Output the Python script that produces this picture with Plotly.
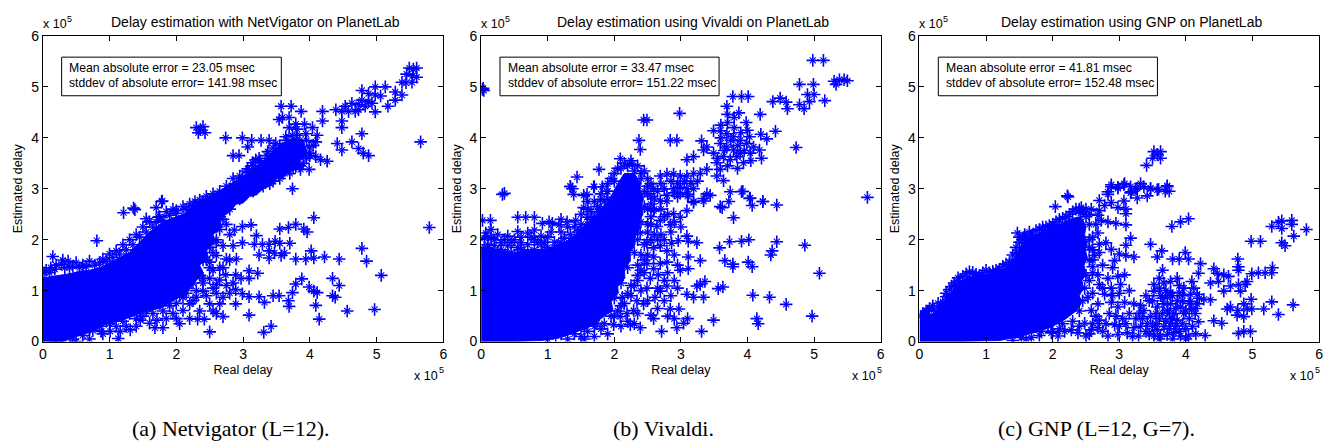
import plotly.graph_objects as go

# ---------------- data (values in units of 1e5, as on the axes) ----------------
ticks = [0, 1, 2, 3, 4, 5, 6]
tick_text = ["0", "1", "2", "3", "4", "5", "6"]

titles = ["Delay estimation with NetVigator on PlanetLab",
          "Delay estimation using Vivaldi on PlanetLab",
          "Delay estimation using GNP on PlanetLab"]
mean_err = ["23.05", "33.47", "41.81"]
std_err = ["141.98", "151.22", "152.48"]
captions = ["(a) Netvigator (L=12).", "(b) Vivaldi.", "(c) GNP (L=12, G=7)."]
scale_base, scale_exp = "x 10", "5"

# outline of the saturated (solid-blue) region where markers overlap completely
nv_dense = [(0, 0), (0.3, 0), (0.55, 0.12), (0.75, 0.2), (0.95, 0.35), (1.15, 0.4), (1.35, 0.5), (1.55, 0.6),
            (1.75, 0.65), (1.95, 0.8), (2.15, 0.95), (2.3, 1.2), (2.4, 1.35), (2.35, 1.5), (2.48, 1.65),
            (2.45, 1.8), (2.58, 1.95), (2.55, 2.1), (2.68, 2.25), (2.65, 2.4), (2.8, 2.55), (2.9, 2.7),
            (3.0, 2.72), (3.1, 2.85), (3.2, 2.88), (3.3, 3.0), (3.4, 3.05), (3.5, 3.2), (3.6, 3.22),
            (3.7, 3.35), (3.8, 3.4), (3.85, 3.55), (3.95, 3.65), (3.95, 3.75), (3.9, 3.95), (3.75, 4.0),
            (3.6, 3.9), (3.45, 3.75), (3.3, 3.55), (3.1, 3.35), (2.9, 3.15), (2.7, 3.0), (2.5, 2.85),
            (2.3, 2.7), (2.1, 2.5), (1.9, 2.4), (1.75, 2.3), (1.6, 2.15), (1.45, 1.95), (1.3, 1.75),
            (1.15, 1.65), (1.0, 1.55), (0.85, 1.45), (0.7, 1.4), (0.55, 1.38), (0.4, 1.33), (0.25, 1.3),
            (0.1, 1.28), (0, 1.25)]

nv_points = [
    (5.49, 5.37), (5.6, 5.37), (5.55, 5.35), (5.45, 5.25), (5.54, 5.22), (5.6, 5.19), (5.38, 5.09), (5.44, 5.08),
    (5.53, 5.09), (4.98, 5.0), (5.13, 5.0), (5.28, 4.9), (5.38, 4.84), (5.28, 4.74), (5.17, 4.62), (4.78, 4.93),
    (4.88, 4.87), (4.98, 4.84), (5.06, 4.82), (4.78, 4.74), (4.88, 4.71), (4.93, 4.68), (4.73, 4.65), (4.83, 4.62),
    (4.98, 4.51), (4.73, 4.55), (4.63, 4.68), (4.53, 4.62), (4.58, 4.52), (4.68, 4.52), (4.39, 4.55), (4.48, 4.52),
    (5.66, 3.92), (4.19, 4.52), (4.19, 4.33), (4.48, 4.33), (4.48, 4.2), (4.63, 3.92), (4.78, 4.08), (4.48, 3.76),
    (4.73, 3.79), (4.8, 3.7), (4.88, 3.65), (4.41, 3.89), (3.57, 4.62), (3.72, 4.62), (3.59, 4.4), (3.69, 4.4),
    (3.54, 4.36), (3.87, 4.52), (3.79, 4.27), (3.92, 4.27), (4.04, 4.2), (3.69, 4.2), (3.81, 4.17),
    (2.3, 4.2), (2.4, 4.22), (2.33, 4.1), (2.43, 4.1), (2.36, 4.16),
    (2.74, 4.0), (2.99, 4.0), (3.13, 3.95), (3.27, 3.95), (3.39, 3.95), (2.85, 3.65), (2.94, 3.65), (3.07, 3.82),
    (3.07, 3.39), (3.19, 3.57), (3.74, 3.0), (3.86, 3.38), (3.99, 3.38), (4.09, 3.63), (4.16, 3.57), (4.26, 3.54),
    (1.78, 2.75), (2.28, 2.75), (2.4, 2.75), (2.5, 2.78), (2.6, 2.81), (2.72, 2.87), (2.8, 3.0), (2.9, 3.1),
    (2.99, 3.22), (3.09, 3.32), (3.19, 3.19), (3.34, 3.25), (3.49, 3.25), (3.64, 3.38), (3.79, 3.44), (3.89, 3.7),
    (3.99, 3.82), (4.09, 3.92), (4.11, 4.05), (3.94, 4.08), (3.74, 4.05), (3.64, 4.02), (3.49, 3.89), (3.37, 3.73),
    (3.24, 3.6), (3.14, 3.51), (3.3, 3.45), (3.45, 3.55), (3.55, 3.7), (3.7, 3.8), (3.85, 3.95), (3.0, 3.05),
    (3.2, 3.0), (3.4, 3.1), (3.55, 3.2), (3.7, 3.3), (3.9, 3.5), (4.0, 3.65), (2.7, 2.6), (2.85, 2.8), (3.05, 2.9),
    (5.79, 2.24), (4.06, 2.43), (3.79, 2.3), (3.91, 2.21), (3.96, 2.15), (3.68, 2.24), (3.55, 2.21), (3.7, 1.93),
    (3.55, 1.93), (3.48, 1.97), (3.39, 1.91), (3.39, 1.78), (3.47, 1.74), (3.62, 1.74), (3.57, 1.69), (3.39, 1.64),
    (3.24, 1.7), (3.29, 1.91), (3.17, 1.91), (3.2, 2.08), (3.12, 2.29), (2.99, 2.26), (2.87, 2.19),
    (3.79, 1.62), (3.94, 1.62), (4.06, 1.64), (4.22, 1.66), (4.44, 1.62), (4.02, 1.78), (4.78, 1.83), (4.85, 1.58),
    (5.07, 1.3), (4.97, 0.63), (4.56, 0.6), (4.34, 1.24), (4.44, 1.1), (4.34, 0.9), (4.38, 0.87), (3.99, 1.07),
    (4.06, 0.99), (4.11, 0.96), (3.88, 1.23), (3.79, 1.13), (4.09, 0.71), (4.14, 0.44), (3.74, 0.96), (3.68, 0.8),
    (3.69, 0.69), (3.54, 0.9), (3.45, 0.9), (3.32, 0.77), (3.24, 0.88), (3.09, 0.88), (2.99, 0.94), (2.89, 1.02),
    (2.97, 1.24), (3.09, 1.24), (3.22, 1.34), (3.09, 1.39), (2.89, 1.31), (2.74, 1.31), (2.65, 1.21), (2.65, 0.74),
    (2.7, 0.87), (2.7, 0.49), (2.89, 0.74), (3.09, 0.52), (3.31, 0.18), (3.42, 0.3), (2.5, 0.19), (2.32, 0.44),
    (2.42, 0.44), (2.2, 0.45), (2.1, 0.61), (2.0, 0.45), (1.8, 0.27), (1.68, 0.27), (1.71, 0.42), (1.6, 0.36),
    (1.46, 0.42), (1.31, 0.23), (1.13, 0.06), (1.01, 0.2), (0.88, 0.2), (1.16, 0.2),
    (3.05, 3.01), (0.81, 1.98), (0.15, 1.67), (1.21, 2.53), (1.38, 2.59), (1.36, 2.62), (1.55, 2.41), (1.7, 2.63),
    (1.79, 2.76), (1.95, 2.6), (2.0, 2.57), (1.73, 2.44), (2.3, 2.67), (2.4, 2.73),
    (2.4, 1.24), (2.5, 1.24), (2.6, 1.12), (2.4, 0.99), (2.5, 0.74), (2.3, 0.87), (2.2, 0.74), (2.1, 0.87),
    (2.6, 2.26), (2.7, 1.88), (2.6, 1.69), (2.85, 1.88), (2.99, 1.94), (2.9, 1.62), (2.75, 1.62), (2.5, 1.56),
    (2.37, 1.88), (2.6, 2.0), (2.8, 2.1), (2.65, 2.45), (2.75, 2.3), (2.5, 2.3), (2.45, 2.1), (2.55, 1.75),
    (2.7, 1.45), (2.8, 1.6), (2.55, 1.4), (2.45, 1.6),
    (0.05, 1.4), (0.2, 1.5), (0.3, 1.6), (0.38, 1.58), (0.5, 1.55), (0.6, 1.5), (0.7, 1.58), (0.9, 1.62),
    (1.0, 1.72), (1.1, 1.78), (1.2, 1.9), (1.3, 2.0), (1.4, 2.1), (1.5, 2.25), (1.6, 2.35), (1.75, 2.45),
    (1.85, 2.55), (2.1, 2.65), (2.2, 2.7), (0.1, 1.35), (0.4, 1.45), (0.85, 1.55),
    (0.3, 0.05), (0.5, 0.0), (0.6, 0.12), (0.7, 0.05), (0.9, 0.15), (1.0, 0.35), (1.2, 0.4), (1.25, 0.3),
    (1.4, 0.45), (1.5, 0.5), (1.55, 0.6), (1.65, 0.55), (1.8, 0.6), (1.9, 0.7), (2.0, 0.75), (2.15, 0.95),
    (2.25, 1.15), (2.35, 1.3), (1.95, 0.55), (1.85, 0.45), (2.05, 0.35), (1.4, 0.3), (0.75, 0.22), (1.1, 0.3),
    (0.45, 0.05), (0.2, 0.02),
    (0.02, 1.35), (0.12, 1.45), (0.18, 1.42), (0.28, 1.52), (0.33, 1.45), (0.45, 1.48), (0.55, 1.45),
    (0.65, 1.47), (0.78, 1.5), (0.95, 1.58), (1.05, 1.65), (1.15, 1.72), (1.25, 1.8), (1.35, 1.9), (1.45, 2.05),
    (1.55, 2.15), (1.65, 2.25), (1.7, 2.35), (1.8, 2.38), (1.9, 2.48), (2.0, 2.52), (2.15, 2.6), (2.25, 2.65),
    (2.35, 2.78), (2.45, 2.85), (2.55, 2.9), (2.65, 2.95), (2.75, 3.05), (2.85, 3.2), (2.95, 3.25), (3.05, 3.35),
    (3.15, 3.45), (3.25, 3.55), (3.35, 3.65), (3.45, 3.8), (3.55, 3.85), (3.65, 3.95), (3.8, 4.05), (3.95, 3.95),
    (4.05, 3.85), (4.0, 3.7), (3.95, 3.6), (3.85, 3.45), (3.75, 3.4), (3.6, 3.3), (3.45, 3.15), (3.3, 3.05),
    (3.15, 2.95), (2.95, 2.8), (2.8, 2.6), (2.7, 2.4), (2.65, 2.2), (2.6, 1.95), (2.5, 1.85), (2.4, 1.6),
    (2.3, 1.4), (2.25, 1.25), (2.15, 1.05), (2.05, 0.9), (1.9, 0.85), (1.75, 0.75), (1.6, 0.7), (1.45, 0.6),
    (1.3, 0.55), (1.2, 0.5), (1.05, 0.45), (0.95, 0.4), (0.85, 0.3), (0.7, 0.25), (0.6, 0.2), (0.4, 0.1),
    (0.15, 0.05),
    (2.05, 1.05), (2.15, 1.2), (2.25, 0.8), (2.35, 0.6), (2.45, 0.9), (2.55, 1.05), (2.6, 0.95), (2.65, 1.45),
    (2.5, 1.45), (2.4, 1.15), (2.3, 1.0), (2.55, 0.6), (2.6, 0.55), (2.75, 1.1), (2.8, 0.95), (2.85, 1.15),
    (2.0, 1.0), (1.9, 1.0), (1.8, 0.95)]

vi_dense = [(0, 0), (0.5, 0), (0.9, 0.02), (1.2, 0.08), (1.45, 0.2), (1.65, 0.3), (1.85, 0.5), (1.98, 0.62),
            (1.95, 0.8), (2.06, 0.95), (2.05, 1.1), (2.16, 1.25), (2.15, 1.42), (2.24, 1.58), (2.24, 1.75),
            (2.31, 1.9), (2.31, 2.05), (2.38, 2.2), (2.38, 2.38), (2.43, 2.5), (2.41, 2.68), (2.44, 2.82),
            (2.39, 2.98), (2.39, 3.12), (2.3, 3.3), (2.15, 3.3), (2.05, 3.1), (1.95, 2.85), (1.85, 2.65),
            (1.75, 2.5), (1.62, 2.35), (1.5, 2.2), (1.38, 2.05), (1.25, 1.95), (1.1, 1.85), (0.9, 1.8),
            (0.7, 1.78), (0.5, 1.75), (0.3, 1.78), (0.15, 1.85), (0, 1.85)]

vi_points = [
    (0.02, 4.95), (0.04, 4.93), (0.03, 4.97),
    (4.98, 5.52), (5.14, 5.52), (5.3, 5.11), (5.38, 5.14), (5.45, 5.14), (5.5, 5.12), (5.33, 5.05), (4.78, 5.05),
    (4.99, 5.05), (4.9, 4.85), (5.0, 4.85), (5.16, 4.73), (4.93, 4.71), (4.78, 4.65), (4.85, 4.57), (4.38, 4.71),
    (4.49, 4.78), (4.58, 4.7), (4.6, 4.57), (4.73, 3.81),
    (3.78, 4.81), (3.91, 4.81), (4.01, 4.81), (3.69, 4.62), (3.87, 4.49), (3.7, 4.46), (3.98, 4.3), (4.19, 4.46),
    (4.42, 4.13), (4.2, 4.07), (4.29, 3.98), (4.03, 4.02), (4.18, 3.76), (4.21, 3.6),
    (2.98, 4.48), (2.94, 3.95), (2.84, 3.95), (2.44, 4.35), (2.49, 4.35), (2.39, 3.77), (2.37, 3.95), (2.09, 3.59),
    (2.27, 3.48), (1.77, 3.38), (1.44, 3.23), (1.34, 3.05), (1.37, 3.0), (1.69, 3.04), (1.54, 2.87), (0.32, 2.89),
    (2.59, 3.0), (2.69, 3.25), (2.79, 3.29), (2.89, 3.29), (2.99, 3.25), (3.09, 3.25), (3.19, 3.3), (3.29, 3.3),
    (2.89, 3.0), (2.99, 3.03), (3.09, 3.0), (3.19, 3.0), (2.79, 2.87), (3.19, 2.75), (3.34, 2.81), (3.44, 2.87),
    (3.09, 3.57), (3.19, 3.63), (3.34, 3.76), (3.31, 3.94), (3.39, 3.82), (3.49, 3.7), (3.54, 3.51), (3.59, 3.38),
    (3.39, 3.38), (3.54, 3.25), (3.64, 3.16), (3.74, 2.94), (3.91, 2.94), (4.03, 2.81), (4.23, 2.75), (5.8, 2.83),
    (3.49, 4.14), (3.59, 4.14), (3.69, 4.08), (3.79, 4.02), (3.89, 3.95), (3.59, 3.89), (3.69, 3.82), (3.79, 3.76),
    (3.89, 3.7), (3.99, 3.89), (4.09, 3.82), (3.64, 3.63), (3.74, 3.57), (3.84, 3.63), (3.94, 3.51), (4.04, 3.7),
    (3.7, 4.3), (3.8, 4.2), (3.6, 4.0), (3.9, 4.1), (4.0, 4.15), (3.75, 3.95), (3.85, 3.85), (3.95, 3.75),
    (3.65, 3.75), (3.55, 3.6), (3.7, 3.45), (3.85, 3.4), (4.05, 3.55), (3.8, 4.4), (3.6, 4.25),
    (1.9, 3.1), (2.0, 3.3), (2.1, 3.4), (2.2, 3.45), (2.3, 3.35), (2.4, 3.3), (2.5, 3.2), (2.55, 3.1), (2.5, 2.9),
    (2.55, 2.7), (1.8, 2.9), (1.9, 2.8), (1.7, 2.75), (1.6, 2.6), (1.75, 2.55), (2.6, 2.8), (2.65, 2.95),
    (2.7, 3.1), (2.75, 3.0), (2.85, 3.15), (2.95, 3.1), (3.05, 3.15), (3.15, 3.1), (3.25, 3.15), (2.95, 2.85),
    (3.1, 2.85),
    (5.08, 1.34), (4.97, 0.5), (4.86, 1.89), (4.58, 0.73), (4.33, 0.87), (4.14, 0.45), (4.16, 0.35), (4.08, 0.91),
    (4.44, 1.96), (4.37, 1.78), (4.35, 1.7), (4.44, 2.68), (4.23, 2.75), (4.07, 2.67), (4.04, 2.82), (3.93, 2.95),
    (3.72, 2.75), (3.79, 2.43), (3.59, 2.65), (3.62, 2.63), (4.02, 2.0), (4.01, 1.56), (4.07, 1.47), (3.91, 1.97),
    (3.73, 1.96), (3.78, 1.52), (3.78, 1.47), (3.66, 1.59), (3.58, 1.84), (3.63, 1.07), (3.56, 1.04), (3.49, 0.42),
    (3.31, 0.2), (3.34, 0.87), (3.36, 1.18), (3.29, 1.12), (3.24, 1.09), (3.19, 0.87), (3.09, 0.93), (3.1, 0.45),
    (3.04, 0.36), (2.94, 0.27), (2.97, 0.64), (2.84, 0.64), (2.71, 0.2), (2.59, 0.45), (2.55, 0.52), (2.39, 0.27),
    (2.24, 0.33), (1.99, 0.33), (1.69, 0.45), (1.74, 0.36), (1.39, 0.27), (1.12, 0.11),
    (2.99, 1.4), (3.11, 1.43), (3.11, 1.66), (3.29, 1.59), (3.11, 1.97), (3.24, 1.94), (3.09, 2.07), (2.96, 1.98),
    (2.86, 1.93), (2.79, 1.78), (2.84, 2.29), (2.69, 2.38), (2.64, 2.26), (2.89, 2.51), (2.99, 2.44), (3.09, 2.57),
    (3.19, 2.73), (3.34, 2.76), (3.39, 2.9), (3.11, 2.89), (2.99, 2.92), (2.9, 2.92), (2.79, 2.76), (2.69, 2.76),
    (2.59, 2.57),
    (2.49, 1.05), (2.54, 1.24), (2.59, 1.43), (2.49, 1.53), (2.59, 1.84), (2.69, 1.88), (2.49, 1.94), (2.39, 2.13),
    (2.69, 1.53), (2.79, 1.56), (2.59, 1.66), (2.66, 1.31), (2.79, 1.09), (2.69, 0.99), (2.61, 0.87), (2.44, 0.74),
    (2.34, 0.8), (2.29, 0.61), (2.19, 0.55), (2.12, 0.87), (2.09, 0.49), (2.4, 1.0), (2.35, 1.2), (2.45, 1.35),
    (2.5, 1.7), (2.55, 2.0), (2.6, 2.1), (2.5, 2.3), (2.55, 2.45), (2.6, 2.6),
    (0.02, 2.38), (0.14, 2.38), (0.07, 2.13), (0.05, 2.03), (0.15, 2.03), (0.05, 1.72), (0.35, 2.91), (0.55, 2.44),
    (0.67, 2.44), (0.8, 2.44), (0.92, 2.32), (1.02, 2.35), (1.07, 2.32), (1.17, 2.29), (1.29, 2.35), (1.42, 2.38),
    (1.49, 2.19), (1.59, 2.44), (1.54, 2.63), (1.39, 2.89), (1.34, 3.04), (1.59, 2.89), (1.7, 3.04), (1.82, 3.04),
    (1.89, 2.95), (1.79, 2.79),
    (0.4, 1.88), (0.5, 2.0), (0.6, 1.94), (0.7, 2.13), (0.8, 2.0), (0.9, 2.07), (0.4, 2.07), (0.3, 1.94),
    (0.2, 1.88), (0.35, 1.69), (0.55, 1.66), (0.75, 1.72), (0.95, 1.78), (1.15, 1.88), (1.25, 2.03), (1.34, 2.1),
    (0.55, 2.16), (0.8, 2.19), (0.1, 1.9), (0.25, 1.75), (0.45, 1.55), (0.65, 1.6), (0.85, 1.65), (1.05, 1.7),
    (1.1, 1.95), (1.0, 2.05), (1.2, 2.15), (1.45, 2.05), (1.55, 2.2), (1.65, 2.4), (1.75, 2.65), (1.3, 1.85),
    (0.6, 1.8), (0.9, 1.9), (0.15, 2.2), (1.4, 2.25), (1.6, 2.75), (1.95, 2.7),
    (1.3, 0.05), (1.5, 0.1), (1.6, 0.2), (1.8, 0.25), (1.9, 0.15), (2.0, 0.5), (2.1, 0.7), (1.85, 0.35),
    (2.2, 0.95), (2.25, 1.1), (2.35, 1.5), (2.4, 1.7), (1.55, 0.05), (1.7, 0.1),
    (0.05, 1.85), (0.1, 2.05), (0.2, 2.0), (0.25, 2.1), (0.3, 1.8), (0.35, 2.0), (0.45, 1.75), (0.45, 1.95),
    (0.5, 1.7), (0.55, 1.85), (0.6, 2.05), (0.65, 1.75), (0.7, 1.9), (0.75, 2.05), (0.8, 1.8), (0.85, 1.95),
    (0.95, 1.95), (1.0, 1.85), (1.05, 2.15), (1.1, 1.8), (1.2, 1.95), (1.2, 2.4), (1.3, 2.25), (1.35, 1.95),
    (1.4, 2.0), (1.45, 2.15), (1.5, 2.3), (1.5, 2.5), (1.6, 2.3), (1.65, 2.55), (1.7, 2.45), (1.8, 2.6),
    (1.85, 2.75), (1.9, 2.95), (1.95, 3.2), (2.0, 3.15), (2.05, 3.4), (2.15, 3.5), (2.25, 3.55), (2.35, 3.45),
    (2.45, 3.35), (2.5, 3.05), (2.55, 2.85), (2.5, 2.6), (2.55, 2.3), (2.5, 2.15), (2.45, 1.9), (2.45, 1.6),
    (2.4, 1.4), (2.35, 1.3), (2.3, 1.1), (2.25, 0.9), (2.15, 0.75), (2.05, 0.6), (1.95, 0.5), (1.8, 0.6),
    (1.7, 0.3), (1.55, 0.3), (1.4, 0.15), (1.2, 0.15), (1.0, 0.05), (2.2, 0.4), (2.3, 0.35),
    (2.7, 2.1), (2.75, 2.0), (2.85, 2.15), (2.9, 1.7), (2.95, 1.5), (2.8, 1.35), (2.75, 1.2), (2.9, 1.2),
    (2.95, 1.05), (2.85, 0.9), (2.75, 0.8), (2.65, 0.65), (2.8, 0.5), (2.9, 0.45), (2.65, 1.05), (2.7, 2.6),
    (2.8, 2.5), (2.9, 2.35), (3.0, 2.25), (2.75, 2.45), (2.65, 2.0),
    (2.1, 1.15), (2.2, 1.45), (2.3, 1.75), (2.35, 2.0), (2.4, 2.35), (2.45, 2.65), (2.45, 2.95), (2.4, 3.2),
    (2.0, 0.85), (2.1, 0.3), (2.35, 0.55), (2.5, 0.8)]

gnp_dense = [(0, 0), (0.6, 0), (1.2, 0.02), (1.5, 0.1), (1.8, 0.2), (2.0, 0.3), (2.2, 0.45), (2.35, 0.6),
             (2.43, 0.75), (2.4, 0.9), (2.46, 1.05), (2.44, 1.2), (2.5, 1.35), (2.47, 1.5), (2.52, 1.65),
             (2.49, 1.8), (2.52, 1.95), (2.48, 2.1), (2.5, 2.25), (2.45, 2.4), (2.4, 2.45), (2.25, 2.4),
             (2.1, 2.3), (1.9, 2.2), (1.75, 2.1), (1.6, 2.0), (1.5, 1.85), (1.42, 1.6), (1.3, 1.45),
             (1.15, 1.35), (0.95, 1.3), (0.75, 1.28), (0.62, 1.18), (0.5, 1.0), (0.4, 0.85), (0.3, 0.65),
             (0.2, 0.55), (0.1, 0.5), (0, 0.42)]

gnp_points = [
    (5.81, 2.2), (5.61, 0.72), (5.39, 0.53), (5.29, 0.78), (5.17, 0.64), (5.29, 1.35), (5.3, 1.45), (5.19, 1.35),
    (5.09, 1.35), (4.99, 1.33), (4.98, 0.83), (4.99, 0.64), (4.92, 0.64), (4.97, 0.2), (4.87, 0.2), (4.79, 0.16),
    (4.87, 0.49), (4.77, 0.52), (4.78, 0.61), (4.87, 0.74), (4.67, 0.68), (4.62, 0.64), (4.92, 1.18), (4.89, 1.12),
    (4.79, 1.12), (4.82, 0.99), (4.67, 1.09), (4.57, 1.31), (4.64, 1.28), (4.47, 1.34), (4.49, 1.18), (4.57, 0.99),
    (4.42, 1.43), (4.37, 1.15), (4.78, 1.62), (4.79, 1.47), (4.79, 1.4), (4.54, 0.36), (4.42, 0.41), (4.37, 0.82),
    (4.27, 0.83), (4.29, 0.12), (4.04, 0.11), (4.19, 0.39), (4.14, 0.55), (4.07, 0.79), (4.17, 0.74), (4.09, 0.64),
    (4.07, 0.93), (4.17, 0.93), (4.09, 1.18), (4.19, 1.34), (4.22, 1.53), (4.04, 1.62), (3.99, 1.75), (3.9, 1.62),
    (3.8, 1.62), (4.04, 2.41), (3.92, 2.35), (3.79, 2.26), (5.39, 2.34), (5.44, 2.37), (5.59, 2.38), (5.59, 2.3),
    (5.62, 2.07), (5.44, 1.94), (5.49, 1.88), (5.44, 2.22), (5.29, 2.26), (5.12, 1.97), (4.98, 1.97),
    (3.47, 1.91), (3.64, 1.78), (3.57, 1.66), (3.65, 1.4), (3.6, 1.24), (3.67, 1.15), (3.52, 1.12), (3.52, 0.99),
    (3.62, 0.9), (3.72, 0.87), (3.77, 0.74), (3.67, 0.74), (3.57, 0.68), (3.72, 0.61), (3.82, 0.55), (3.87, 0.8),
    (3.92, 0.68), (3.97, 0.55), (3.87, 0.42), (3.77, 0.36), (3.67, 0.3), (3.57, 0.23), (3.52, 0.11), (3.62, 0.11),
    (3.72, 0.14), (3.82, 0.17), (3.92, 0.11), (3.47, 0.49), (3.42, 0.36), (3.37, 0.61), (3.45, 0.8), (3.77, 1.18),
    (3.87, 1.24), (3.97, 1.05), (3.77, 0.96), (3.9, 0.96),
    (3.17, 2.03), (3.1, 1.89), (3.1, 1.69), (3.22, 1.66), (3.0, 1.72), (2.93, 1.59), (2.88, 1.81), (2.8, 1.94),
    (2.68, 2.13), (2.7, 1.91), (2.83, 1.24), (2.98, 1.28), (3.02, 1.12), (3.08, 1.31), (2.88, 1.05), (2.78, 0.93),
    (2.68, 1.31), (2.7, 1.12), (2.6, 1.47), (2.63, 1.69), (2.88, 0.77), (3.08, 0.77), (3.22, 0.74), (3.32, 0.71),
    (2.98, 0.68), (3.05, 0.45), (2.93, 0.33), (2.98, 0.14), (3.12, 0.17), (3.22, 0.27), (3.32, 0.3), (3.29, 0.11),
    (2.83, 0.11), (2.68, 0.27), (2.7, 0.42), (2.58, 0.23), (2.5, 0.11), (2.38, 0.17), (2.28, 0.23), (2.18, 0.2),
    (2.08, 0.11), (1.98, 0.17), (1.93, 0.33), (1.83, 0.2), (1.68, 0.08), (1.53, 0.08), (2.48, 0.36), (2.58, 0.61),
    (2.68, 0.74), (2.53, 0.87), (2.48, 1.05),
    (2.88, 3.04), (2.98, 3.01), (3.07, 3.08), (3.17, 3.04), (3.27, 3.01), (3.37, 3.04), (3.47, 3.01), (3.57, 2.98),
    (3.72, 3.04), (3.69, 2.95), (3.42, 2.86), (3.27, 2.82), (3.17, 2.92), (3.07, 2.76), (3.1, 2.6), (3.1, 2.51),
    (2.98, 2.63), (2.88, 2.73), (2.83, 2.89), (2.78, 2.67), (2.7, 2.57), (2.95, 2.32), (3.1, 2.29), (2.83, 2.35),
    (2.73, 2.38), (2.68, 2.48), (2.58, 2.6), (2.22, 2.86), (2.04, 2.65), (2.43, 2.63), (2.5, 2.6),
    (3.57, 3.67), (3.52, 3.73), (3.62, 3.73), (3.5, 3.6), (3.62, 3.6), (3.41, 3.46), (3.72, 3.06), (3.75, 2.95),
    (3.59, 2.99), (3.47, 3.0), (3.32, 3.1), (3.25, 3.0), (3.18, 2.94), (3.08, 3.1), (2.98, 3.03), (2.88, 3.08),
    (2.83, 2.94), (2.23, 2.84), (2.7, 2.77),
    (0.6, 1.2), (0.7, 1.33), (0.8, 1.36), (0.9, 1.3), (1.1, 1.38), (1.3, 1.52), (1.2, 1.42), (1.45, 1.75),
    (1.5, 1.95), (1.6, 2.05), (1.55, 2.0), (1.8, 2.2), (2.0, 2.3), (2.2, 2.45), (2.3, 2.55), (2.4, 2.6),
    (2.45, 2.55), (1.7, 2.1), (1.9, 2.25), (0.3, 0.65), (0.2, 0.7), (0.15, 0.65), (0.05, 0.55), (0.35, 0.78),
    (0.4, 0.88), (0.45, 1.02), (0.55, 1.1), (1.0, 1.4), (0.95, 1.35), (1.4, 1.6), (1.65, 2.15), (2.1, 2.4),
    (2.5, 2.45), (2.55, 2.3), (2.55, 2.0), (2.6, 1.8), (2.55, 1.6), (2.5, 1.3), (2.45, 0.8), (2.4, 0.6),
    (2.3, 0.4), (2.15, 0.35), (2.0, 0.2), (1.8, 0.12), (1.6, 0.05), (2.2, 0.6), (2.35, 1.0), (2.4, 0.3),
    (1.4, 0.02), (1.75, 0.3), (2.1, 0.25), (0.1, 0.6), (0.25, 0.5),
    (3.4, 0.2), (3.45, 0.15), (3.55, 0.35), (3.6, 0.45), (3.65, 0.55), (3.7, 0.4), (3.75, 0.25), (3.8, 0.45),
    (3.85, 0.3), (3.9, 0.2), (3.95, 0.35), (4.0, 0.25), (4.05, 0.45), (4.1, 0.3), (4.0, 0.6), (3.95, 0.8),
    (3.85, 0.65), (3.75, 0.55), (3.65, 0.85), (3.55, 0.55), (3.5, 0.8), (3.6, 1.05), (3.7, 1.0), (3.8, 0.9),
    (3.95, 0.9), (4.05, 0.75), (4.15, 0.65), (4.2, 0.85), (4.12, 1.05), (3.9, 1.1), (3.5, 0.3), (3.6, 0.05),
    (3.8, 0.05), (4.0, 0.05), (4.15, 0.15), (3.35, 0.45), (3.3, 0.55), (3.4, 0.9),
    (2.55, 0.15), (2.6, 0.35), (2.65, 0.5), (2.75, 0.2), (2.8, 0.35), (2.85, 0.55), (2.95, 0.5), (3.0, 0.3),
    (3.1, 0.35), (3.15, 0.55), (3.2, 0.1), (3.25, 0.45), (2.6, 0.95), (2.75, 1.05), (2.9, 0.9), (3.0, 0.95),
    (3.15, 1.0), (2.55, 1.2), (2.6, 1.35), (2.75, 1.5), (2.9, 1.45), (2.6, 1.6), (2.7, 1.75), (2.55, 1.85),
    (2.6, 2.05), (2.65, 2.3), (2.55, 2.5),
    (0.02, 0.48), (0.08, 0.52), (0.12, 0.6), (0.22, 0.62), (0.28, 0.75), (0.32, 0.7), (0.4, 0.95), (0.48, 1.08),
    (0.52, 1.15), (0.58, 1.25), (0.65, 1.28), (0.75, 1.37), (0.85, 1.32), (1.05, 1.35), (1.15, 1.4), (1.25, 1.48),
    (1.35, 1.55), (1.4, 1.7), (1.45, 1.85), (1.5, 2.05), (1.58, 2.1), (1.68, 2.05), (1.75, 2.18), (1.85, 2.25),
    (1.95, 2.28), (2.05, 2.35), (2.15, 2.42), (2.25, 2.5), (2.35, 2.6), (2.42, 2.52), (1.47, 2.13), (1.62, 1.93)]

panels = [(nv_dense, nv_points), (vi_dense, vi_points), (gnp_dense, gnp_points)]

# ---------------- figure ----------------
BLUE = "rgb(0,0,255)"
W, H = 1333, 445
x_doms = [(39 / W, 442 / W), (480 / W, 882 / W), (921 / W, 1323 / W)]
y_dom = (1 - 346 / H, 1 - 29 / H)
SANS = "Liberation Sans, Arial, Helvetica, sans-serif"
SERIF = "Liberation Serif, Times New Roman, serif"
TXT = dict(family=SANS, size=12.5, color="black")
SUPTXT = dict(family=SANS, size=9, color="black")
BOXTXT = dict(family=SANS, size=12.2, color="black")

fig = go.Figure()
annotations = []
shapes = []
for i, (dense, pts) in enumerate(panels):
    n = "" if i == 0 else str(i + 1)
    xa, ya = "x" + n, "y" + n
    px = [p[0] for p in pts]
    py = [p[1] for p in pts]
    fig.add_trace(go.Scatter(x=[p[0] for p in dense], y=[p[1] for p in dense], xaxis=xa, yaxis=ya,
                             mode="lines", fill="toself", fillcolor=BLUE,
                             line=dict(color=BLUE, width=1), hoverinfo="skip", showlegend=False))
    # MATLAB '*' marker: a bold '+' with thinner diagonal arms
    fig.add_trace(go.Scatter(x=px, y=py, xaxis=xa, yaxis=ya, mode="markers", showlegend=False,
                             marker=dict(symbol="x-thin-open", size=6, color=BLUE,
                                         line=dict(color="rgb(40,40,255)", width=1.1))))
    fig.add_trace(go.Scatter(x=px, y=py, xaxis=xa, yaxis=ya, mode="markers", showlegend=False,
                             marker=dict(symbol="cross-thin-open", size=9, color=BLUE,
                                         line=dict(color=BLUE, width=1.6))))
    axis_common = dict(range=[0, 6], tickvals=ticks, ticktext=tick_text, showgrid=False, zeroline=False,
                       showline=True, linecolor="black", linewidth=1, mirror="ticks", ticks="inside",
                       ticklen=5, tickcolor="black", tickfont=dict(family=SANS, size=14, color="black"))
    fig.update_layout(**{
        "xaxis" + n: dict(domain=list(x_doms[i]), anchor=ya,
                          title=dict(text="Real delay", standoff=3, font=TXT), **axis_common),
        "yaxis" + n: dict(domain=list(y_dom), anchor=xa,
                          title=dict(text="Estimated delay", standoff=5, font=TXT), **axis_common),
    })
    xd, yd = xa + " domain", ya + " domain"
    # statistics box
    shapes.append(dict(type="rect", xref=xa, yref=ya, x0=0.283, x1=3.573, y0=4.826, y1=5.584,
                       line=dict(color="black", width=1), fillcolor="white", layer="above"))
    annotations += [
        dict(text=titles[i], xref=xd, yref=yd, x=0.53, y=1, xanchor="center", yanchor="bottom", yshift=4,
             showarrow=False, font=dict(family=SANS, size=14, color="black")),
        # "x 10^5" exponent labels (top-left of y axis, bottom-right of x axis)
        dict(text=scale_base, xref=xd, yref=yd, x=0, y=1, xanchor="left", yanchor="bottom", yshift=3,
             xshift=-2, showarrow=False, font=TXT),
        dict(text=scale_exp, xref=xd, yref=yd, x=0, y=1, xanchor="left", yanchor="bottom", yshift=10,
             xshift=22, showarrow=False, font=SUPTXT),
        dict(text=scale_base, xref=xd, yref=yd, x=1, y=0, xanchor="right", yanchor="top", yshift=-25,
             xshift=-3, showarrow=False, font=TXT),
        dict(text=scale_exp, xref=xd, yref=yd, x=1, y=0, xanchor="right", yanchor="top", yshift=-21,
             xshift=3, showarrow=False, font=SUPTXT),
        dict(text="Mean absolute error = " + mean_err[i] + " msec", xref=xa, yref=ya, x=0.37, y=5.375,
             xanchor="left", yanchor="middle", showarrow=False, font=BOXTXT),
        dict(text="stddev of absolute error= " + std_err[i] + " msec", xref=xa, yref=ya, x=0.37, y=5.073,
             xanchor="left", yanchor="middle", showarrow=False, font=BOXTXT),
    ]

cap_x = [228, 663, 1099]
for i, c in enumerate(captions):
    annotations.append(dict(text=c, xref="paper", yref="paper", x=cap_x[i] / W, y=1 - 436 / H,
                            xanchor="center", yanchor="middle", showarrow=False,
                            font=dict(family=SERIF, size=22, color="black")))

fig.update_layout(width=W, height=H, margin=dict(l=0, r=0, t=0, b=0), paper_bgcolor="white",
                  plot_bgcolor="white", annotations=annotations, shapes=shapes)

fig.write_html("out.html")
